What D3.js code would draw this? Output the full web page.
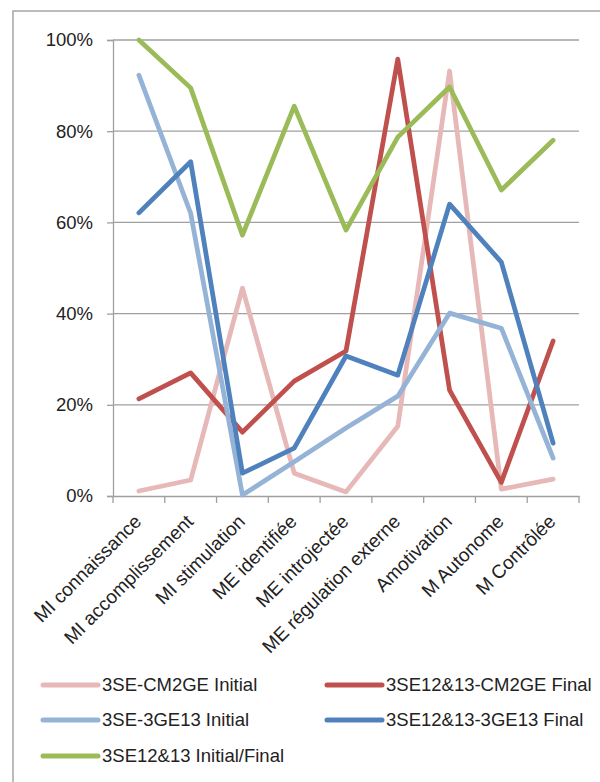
<!DOCTYPE html>
<html><head><meta charset="utf-8">
<script src="https://cdn.jsdelivr.net/npm/d3@7"></script>
<style>
html,body{margin:0;padding:0;background:#fff;}
svg{display:block;font-family:"Liberation Sans",Arial,sans-serif;}
</style></head>
<body>
<svg id="chart" width="600" height="782"></svg>
<script>
const categories = ["MI connaissance","MI accomplissement","MI stimulation","ME identifiée","ME introjectée","ME régulation externe","Amotivation","M Autonome","M Contrôlée"];
const seriesNames = ["3SE-CM2GE Initial","3SE12&13-CM2GE Final","3SE-3GE13 Initial","3SE12&13-3GE13 Final","3SE12&13 Initial/Final"];
const cm2geInitial = [0.011,0.035,0.456,0.05,0.009,0.153,0.932,0.015,0.037];
const cm2geFinal   = [0.213,0.27,0.14,0.252,0.318,0.958,0.232,0.03,0.34];
const ge13Initial  = [0.923,0.62,0.002,0.075,0.149,0.219,0.401,0.368,0.083];
const ge13Final    = [0.621,0.733,0.05,0.105,0.307,0.265,0.64,0.513,0.116];
const se1213       = [1.0,0.895,0.572,0.855,0.583,0.787,0.897,0.671,0.78];
const yTicks = [0,0.2,0.4,0.6,0.8,1.0];
const colors = ["#E6B9B8","#C0504D","#95B3D7","#4F81BD","#9BBB59"];
const seriesValues = [cm2geInitial,cm2geFinal,ge13Initial,ge13Final,se1213];

(function(){
const svg = d3.select("#chart");
const pLeft=113, pRight=579, pTop=40, pBottom=496;

svg.append("rect").attr("x",13).attr("y",11).attr("width",640).attr("height",800)
  .attr("fill","none").attr("stroke","#A6A6A6").attr("stroke-width",1.5);

const x = d3.scalePoint().domain(categories).range([pLeft,pRight]).padding(0.5);
const xb = d3.scaleBand().domain(categories).range([pLeft,pRight]);
const y = d3.scaleLinear().domain([0,1]).range([pBottom,pTop]);

svg.append("g").selectAll("line").data(yTicks.filter(d=>d>0)).join("line")
  .attr("x1",pLeft).attr("x2",pRight).attr("y1",d=>y(d)).attr("y2",d=>y(d))
  .attr("stroke","#A0A0A0").attr("stroke-width",1.3);

const yAxis = svg.append("g").attr("transform",`translate(${pLeft},0)`)
  .call(d3.axisLeft(y).tickValues(yTicks).tickFormat(d3.format(".0%")).tickSize(6).tickPadding(14));
yAxis.select(".domain").attr("stroke","#A0A0A0").attr("stroke-width",1.3);
yAxis.selectAll(".tick line").attr("stroke","#A0A0A0").attr("stroke-width",1.3);
yAxis.selectAll("text").attr("font-size",18.5).attr("fill","#222").attr("font-family","Liberation Sans, Arial, sans-serif");

const xAxis = svg.append("g").attr("transform",`translate(0,${pBottom})`)
  .call(d3.axisBottom(xb).tickSize(0).tickFormat(""));
xAxis.select(".domain").attr("stroke","#A0A0A0").attr("stroke-width",1.3);
const bounds = categories.map(c=>xb(c)).concat([pRight]);
svg.append("g").selectAll("line").data(bounds).join("line")
  .attr("x1",d=>d).attr("x2",d=>d).attr("y1",pBottom).attr("y2",pBottom+7)
  .attr("stroke","#A0A0A0").attr("stroke-width",1.3);
svg.append("g").selectAll("text").data(categories).join("text")
  .attr("transform",d=>`translate(${x(d)-1},${pBottom+22}) rotate(-45)`)
  .attr("text-anchor","end").attr("dy","0.35em")
  .attr("font-size",19).attr("fill","#222").text(d=>d);

const line = d3.line().x((d,i)=>x(categories[i])).y(d=>y(d));
svg.append("g").selectAll("path").data(seriesValues).join("path")
  .attr("d",d=>line(d)).attr("fill","none")
  .attr("stroke",(d,i)=>colors[i]).attr("stroke-width",4.75)
  .attr("stroke-linejoin","round").attr("stroke-linecap","round");

const legPos = [[43,685],[327,685],[43,720],[327,720],[43,756]];
const leg = svg.append("g").selectAll("g").data(seriesNames).join("g")
  .attr("transform",(d,i)=>`translate(${legPos[i][0]},${legPos[i][1]})`);
leg.append("line").attr("x1",0).attr("x2",55).attr("y1",0).attr("y2",0)
  .attr("stroke",(d,i)=>colors[i]).attr("stroke-width",5).attr("stroke-linecap","round");
leg.append("text").attr("x",59).attr("dy","0.35em").attr("font-size",18.5).attr("fill","#222").text(d=>d);
})();
</script>
</body></html>
